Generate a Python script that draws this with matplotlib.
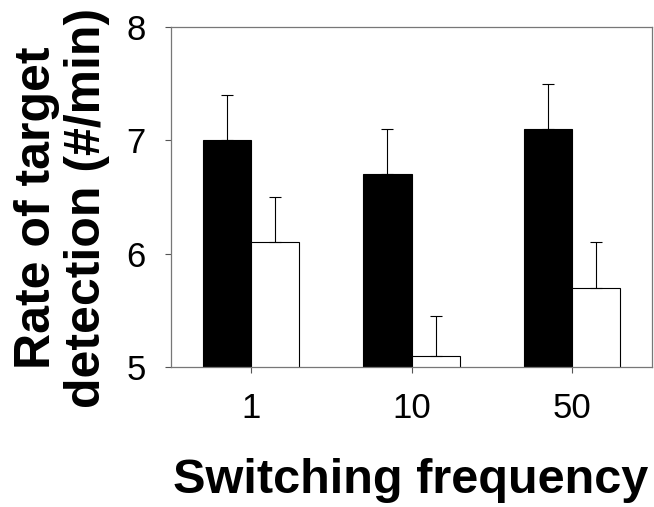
import matplotlib
matplotlib.use("Agg")
import matplotlib.pyplot as plt
import numpy as np

plt.rcParams['font.family'] = ['Liberation Sans', 'DejaVu Sans']

# データ
freq_labels = ["1", "10", "50"]
black_vals = [7.0, 6.7, 7.1]
black_err = [0.4, 0.4, 0.4]
white_vals = [6.1, 5.1, 5.7]
white_err = [0.4, 0.35, 0.4]

fig = plt.figure(figsize=(6.54, 5.07), dpi=100)
ax = fig.add_axes([171 / 654, 1 - 367 / 507, 481 / 654, 340 / 507])

x = np.arange(len(freq_labels))
w = 0.3
ax.bar(x - w / 2, black_vals, w, color='black', edgecolor='black', linewidth=0.8,
       yerr=[np.zeros(3), black_err], capsize=4.5,
       error_kw=dict(elinewidth=0.8, capthick=0.8, ecolor='black'))
ax.bar(x + w / 2, white_vals, w, color='white', edgecolor='black', linewidth=0.8,
       yerr=[np.zeros(3), white_err], capsize=4.5,
       error_kw=dict(elinewidth=0.8, capthick=0.8, ecolor='black'))

ax.set_xlim(-0.5, 2.5)
ax.set_ylim(5, 8)
ax.set_yticks([5, 6, 7, 8])
ax.set_xticks(x)
ax.set_xticklabels(freq_labels)
ax.tick_params(axis='both', labelsize=25, length=4, width=0.8, color='#555555')
ax.tick_params(axis='x', pad=14)
ax.tick_params(axis='y', pad=14)
for s in ax.spines.values():
    s.set_color('#777777')
    s.set_linewidth(0.9)

# 軸ラベル（手動配置）
fig.text(62 / 654, 1 - 208 / 507, "Rate of target\ndetection (#/min)", rotation=90,
         fontsize=36, fontweight='bold', ha='center', va='center', linespacing=1.1)
fig.text(411 / 654, 1 - 493 / 507, "Switching frequency", fontsize=35,
         fontweight='bold', ha='center', va='baseline')

fig.savefig("out.png", dpi=100)
